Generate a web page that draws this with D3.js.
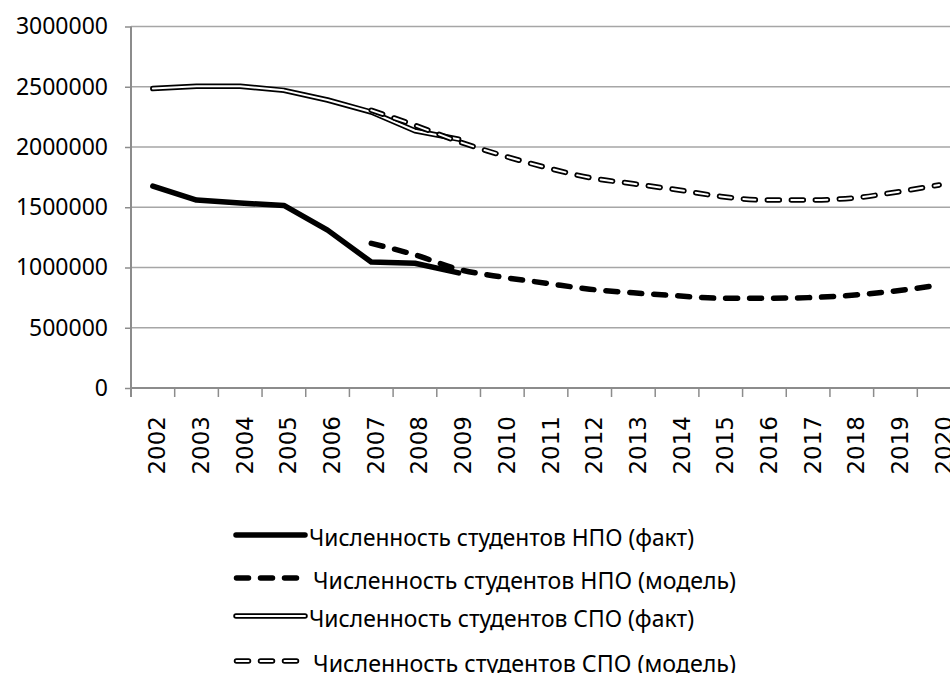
<!DOCTYPE html>
<html>
<head>
<meta charset="utf-8">
<script src="https://cdn.jsdelivr.net/npm/d3@7/dist/d3.min.js"></script>
<style>
  body { margin: 0; background: #fff; }
</style>
</head>
<body>
<div class="line-chart-container"></div>
<script>
// categories (years) and y tick values
const years = ['2002', '2003', '2004', '2005', '2006', '2007', '2008', '2009', '2010', '2011',
               '2012', '2013', '2014', '2015', '2016', '2017', '2018', '2019', '2020'];
const yTicks = [0, 500000, 1000000, 1500000, 2000000, 2500000, 3000000];

// series values, aligned with years (null = no value)
const npoFact  = [1675000, 1560000, 1535000, 1515000, 1310000, 1045000, 1035000, 955000,
                  null, null, null, null, null, null, null, null, null, null, null];
const npoModel = [null, null, null, null, null, 1200000, 1105000, 985000, 920000, 870000,
                  820000, 790000, 765000, 745000, 745000, 750000, 770000, 805000, 855000];
const spoFact  = [2485000, 2505000, 2505000, 2470000, 2390000, 2290000, 2135000, 2065000,
                  null, null, null, null, null, null, null, null, null, null, null];
const spoModel = [null, null, null, null, null, 2305000, 2180000, 2045000, 1930000, 1830000,
                  1745000, 1695000, 1645000, 1590000, 1560000, 1560000, 1575000, 1625000, 1685000];

const seriesNames = [
    'Численность студентов НПО (факт)',
    'Численность студентов НПО (модель)',
    'Численность студентов СПО (факт)',
    'Численность студентов СПО (модель)'
];

// how each series is drawn: black line, optionally with a white core (double line)
function seriesStyles() {
    return [
        { name: seriesNames[0], values: npoFact, curve: d3.curveLinear, dashed: false, hollow: false, textX: 309, rowY: 535 },
        { name: seriesNames[1], values: npoModel, curve: d3.curveMonotoneX, dashed: true, hollow: false, textX: 313, rowY: 578 },
        { name: seriesNames[2], values: spoFact, curve: d3.curveLinear, dashed: false, hollow: true, textX: 309, rowY: 616 },
        { name: seriesNames[3], values: spoModel, curve: d3.curveMonotoneX, dashed: true, hollow: true, textX: 313, rowY: 661 }
    ];
}

function drawStroke(sel, d) {
    // outer black line
    sel.append('path').attr('d', d.path)
        .style('fill', 'none').style('stroke', '#000')
        .style('stroke-width', 5.5)
        .style('stroke-linecap', 'round').style('stroke-linejoin', 'round')
        .style('stroke-dasharray', d.dashed ? '12,12' : null);
    // white core for the СПО series
    if (d.hollow) {
        sel.append('path').attr('d', d.path)
            .style('fill', 'none').style('stroke', '#fff')
            .style('stroke-width', 2)
            .style('stroke-linecap', 'round').style('stroke-linejoin', 'round')
            .style('stroke-dasharray', d.dashed ? '12,12' : null);
    }
}

function setupCanvas() {
    const svg = d3.select('.line-chart-container').append('svg')
        .attr('width', 950).attr('height', 673);

    const xScale = d3.scaleBand().domain(years).range([131, 961]);
    const yScale = d3.scaleLinear().domain([0, 3000000]).range([388, 26.5]);
    const xMid = d => xScale(d) + xScale.bandwidth() / 2;

    // gridlines
    svg.append('g').attr('class', 'grid')
        .selectAll('line').data(yTicks.slice(1)).enter()
        .append('line')
        .attr('x1', 131).attr('x2', 961)
        .attr('y1', d => yScale(d)).attr('y2', d => yScale(d))
        .style('stroke', '#a6a6a6').style('stroke-width', 1.5);

    // y axis
    const yAxis = d3.axisLeft(yScale).tickValues(yTicks).tickSize(6).tickPadding(17)
        .tickFormat(d3.format('d'));
    const yAxisDraw = svg.append('g').attr('class', 'y axis')
        .attr('transform', 'translate(131,0)')
        .call(yAxis);
    yAxisDraw.select('.domain').remove();
    yAxisDraw.selectAll('.tick line').style('stroke', '#8c8c8c').style('stroke-width', 1.5);
    yAxisDraw.selectAll('text')
        .style('font-family', '"Noto Sans", sans-serif').style('font-size', '23px').style('fill', '#000');
    svg.append('line')
        .attr('x1', 131).attr('x2', 131).attr('y1', yScale(3000000)).attr('y2', 397)
        .style('stroke', '#8c8c8c').style('stroke-width', 2);

    // x axis: labels at band centers, tick marks at band edges
    const xAxis = d3.axisBottom(xScale).tickSize(0);
    const xAxisDraw = svg.append('g').attr('class', 'x axis')
        .attr('transform', `translate(0,${yScale(0)})`)
        .call(xAxis);
    xAxisDraw.select('.domain').remove();
    xAxisDraw.selectAll('text')
        .attr('transform', 'rotate(-90)')
        .attr('x', -28).attr('y', 12.5).attr('dy', 0)
        .style('text-anchor', 'end')
        .style('font-family', '"DejaVu Sans", sans-serif').style('font-size', '23px').style('fill', '#000');
    svg.append('line')
        .attr('x1', 131).attr('x2', 961).attr('y1', yScale(0)).attr('y2', yScale(0))
        .style('stroke', '#8c8c8c').style('stroke-width', 2);
    svg.append('g').attr('class', 'x-ticks')
        .selectAll('line').data(years.slice(1)).enter()
        .append('line')
        .attr('x1', d => xScale(d)).attr('x2', d => xScale(d))
        .attr('y1', yScale(0)).attr('y2', yScale(0) + 9)
        .style('stroke', '#8c8c8c').style('stroke-width', 1.5);

    // series lines
    const series = seriesStyles();
    series.forEach(s => {
        const lineGen = d3.line()
            .defined(v => v !== null)
            .x((v, i) => xMid(years[i]))
            .y(v => yScale(v))
            .curve(s.curve);
        s.path = lineGen(s.values);
    });
    const chartGroup = svg.append('g').attr('class', 'line-chart');
    series.forEach(s => {
        drawStroke(chartGroup.append('g').attr('class', 'line-series'), s);
    });

    // legend
    const legend = svg.append('g').attr('class', 'legend');
    series.forEach(s => {
        const row = legend.append('g').attr('transform', `translate(0,${s.rowY})`);
        const sample = s.dashed
            ? d3.line()([[236.5, 0], [300, 0]])
            : d3.line()([[236, 0], [305, 0]]);
        drawStroke(row, { path: sample, dashed: s.dashed, hollow: s.hollow });
        row.append('text')
            .attr('x', s.textX).attr('y', 11)
            .attr('textLength', s.dashed ? 423 : 385).attr('lengthAdjust', 'spacingAndGlyphs')
            .text(s.name)
            .style('font-family', '"Noto Sans", sans-serif').style('font-size', '24px').style('fill', '#000');
    });
}

setupCanvas();
</script>
</body>
</html>
